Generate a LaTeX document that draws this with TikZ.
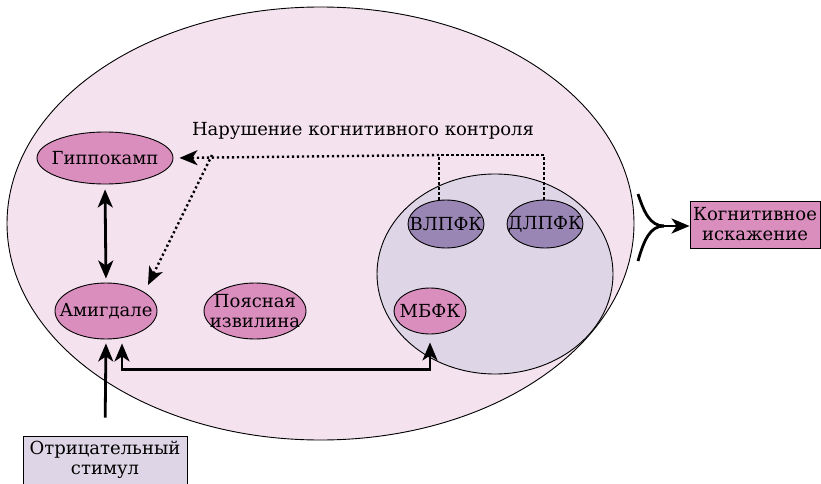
\documentclass[tikz,border=0pt]{standalone}
\usepackage{fontspec}
\setmainfont{DejaVu Serif}
\newfontfamily\lserif{DejaVu Serif}
\usetikzlibrary{arrows.meta,shapes.geometric,calc}
\definecolor{bgpink}{RGB}{244,226,238}
\definecolor{nodepink}{RGB}{218,142,190}
\definecolor{nodepurple}{RGB}{154,134,180}
\definecolor{pfcgrey}{RGB}{222,214,230}
\newcommand{\zw}[1]{\makebox[0pt][c]{#1}}
\begin{document}
\begin{tikzpicture}[x=1pt,y=-1pt,
  txt/.style={font=\lserif\fontsize{18}{20}\selectfont, align=center},
  region/.style={ellipse, draw, line width=0.9pt, inner sep=0pt, txt},
  pinkreg/.style={region, fill=nodepink},
  purpreg/.style={region, fill=nodepurple},
  labelbox/.style={rectangle, draw, line width=0.9pt, inner sep=0pt, txt},
  arr/.style={line width=2.8pt, -{Stealth[length=18pt,width=15pt,inset=5pt]}},
  darr/.style={line width=2.8pt, {Stealth[length=18pt,width=15pt,inset=5pt]}-{Stealth[length=18pt,width=15pt,inset=5pt]}},
  dots/.style={line width=2.4pt, dash pattern=on 2.2pt off 2.8pt},
  dotarr/.style={dots, -{Stealth[length=18pt,width=15pt,inset=5pt]}}
]
\useasboundingbox (0,0) rectangle (821,484);
% large brain ellipse
\node[ellipse, draw, line width=0.9pt, fill=bgpink, minimum width=627pt, minimum height=433pt, inner sep=0pt] (brain) at (320.5,223.5) {};
% prefrontal cortex ellipse
\node[ellipse, draw, line width=0.9pt, fill=pfcgrey, minimum width=236pt, minimum height=200pt, inner sep=0pt] (pfc) at (495,274) {};

\node[pinkreg, minimum width=136pt, minimum height=52pt] (hip) at (105,158) {\zw{Гиппокамп}};
\node[pinkreg, minimum width=102pt, minimum height=56pt] (amy) at (106,311) {\zw{Амигдале}};
\node[pinkreg, minimum width=102pt, minimum height=56pt] (cing) at (255,311) {\zw{Поясная}\\\zw{извилина}};
\node[purpreg, minimum width=76pt, minimum height=48pt] (vlpfc) at (446,224) {\zw{ВЛПФК}};
\node[purpreg, minimum width=76pt, minimum height=48pt] (dlpfc) at (545,224) {\zw{ДЛПФК}};
\node[pinkreg, minimum width=72pt, minimum height=46pt] (mpfc) at (430,311) {\zw{МБФК}};

\node[txt] (ctrl) at (363,131) {Нарушение когнитивного контроля};

\node[labelbox, fill=nodepink, minimum width=130pt, minimum height=47pt] (cog) at (755,224.5) {\zw{Когнитивное}\\\zw{искажение}};
\node[labelbox, fill=pfcgrey, minimum width=164pt, minimum height=48pt] (stim) at (105,460) {\zw{Отрицательный}\\\zw{стимул}};

% coordinates
\coordinate (vtop) at (439,155);
\coordinate (dtop) at (544,155);
\coordinate (branch) at (212,155);
\coordinate (merge) at (664,226);
\coordinate (upper) at (638,194);
\coordinate (lower) at (638,261);

% hippocampus <-> amygdala
\draw[darr, shorten <=5pt, shorten >=4pt] (hip.south) -- (amy.north);

% dotted cognitive control lines
\draw[dots] (vlpfc.north -| vtop) -- (vtop);
\draw[dots] (dlpfc.north -| dtop) -- (dtop) -- (vtop);
\draw[dotarr, shorten >=6pt] (vtop) -- (hip.east);
\draw[dotarr] (branch) -- (148,285);

% stimulus -> amygdala
\draw[arr, shorten <=18pt, shorten >=4pt] (stim.north) -- (amy.south);
% amygdala <-> mPFC
\draw[darr, shorten <=4pt, shorten >=8pt] ([xshift=16pt]amy.south) -- ++(0,30) -| (mpfc.south);

% bracket to cognitive distortion
\draw[line width=2.8pt] (upper) .. controls (644,212) and (650,226) .. (merge);
\draw[line width=2.8pt] (lower) .. controls (644,240) and (650,226) .. (merge);
\draw[arr] (merge) -- (merge -| cog.west);
\end{tikzpicture}
\end{document}
